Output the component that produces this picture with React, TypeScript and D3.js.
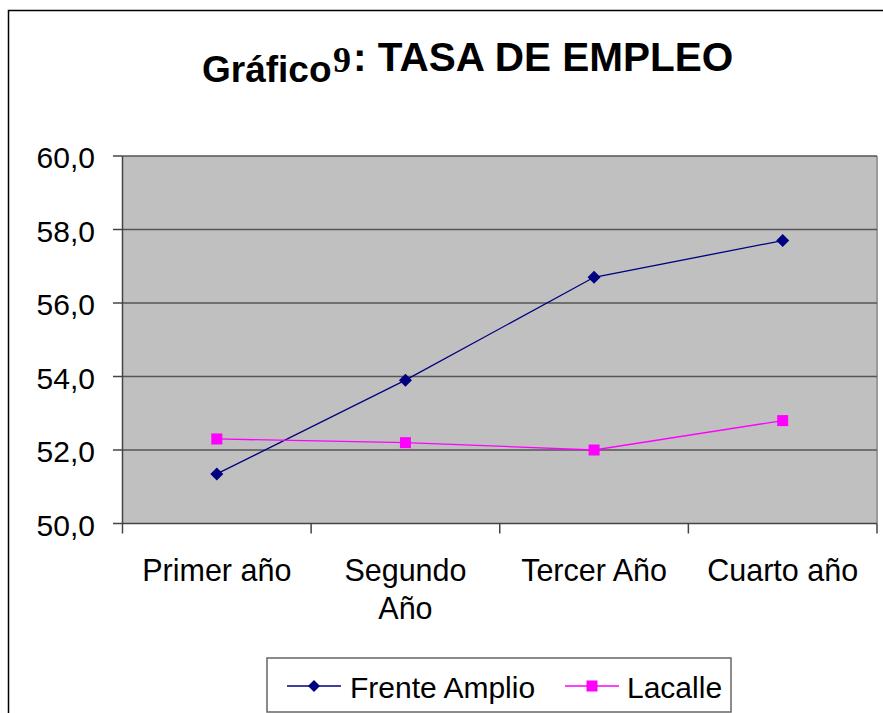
import React from 'react';
import * as d3 from 'd3';

const categories = ['Primer año', 'Segundo Año', 'Tercer Año', 'Cuarto año'];
const categoryLines = [['Primer año'], ['Segundo', 'Año'], ['Tercer Año'], ['Cuarto año']];
const frenteAmplio = [51.35, 53.9, 56.7, 57.7];
const lacalle = [52.3, 52.2, 52.0, 52.8];
const yTicks = [50, 52, 54, 56, 58, 60];
const seriesNames = ['Frente Amplio', 'Lacalle'];

const font = '"Liberation Sans", Arial, sans-serif';

const App = () => {
  const width = 883;
  const height = 713;

  // Plot area
  const left = 122.5;
  const right = 877;
  const top = 156;
  const bottom = 523.5;

  const x = d3.scaleBand<string>().domain(categories).range([left, right]).padding(0);
  const y = d3.scaleLinear().domain([50, 60]).range([bottom, top]);
  const cx = (c: string) => (x(c) as number) + x.bandwidth() / 2;

  const line = d3
    .line<number>()
    .x((_, i) => cx(categories[i]))
    .y((d) => y(d));

  const diamond = (px: number, py: number, r: number) =>
    `M${px},${py - r}L${px + r},${py}L${px},${py + r}L${px - r},${py}Z`;

  return (
    <svg
      width={width}
      height={height}
      style={{ position: 'absolute', left: 0, top: 0, background: '#fff' }}
    >
      {/* outer frame */}
      <path d={`M8.5,${height}V10.5H${width}`} fill="none" stroke="#000" strokeWidth={1.5} />

      {/* title */}
      <text x={202} y={82} fontFamily={font} fontWeight="bold" fontSize={37}>
        Gráfico
      </text>
      <text
        x={333}
        y={72}
        fontFamily='"Liberation Serif", "Times New Roman", serif'
        fontWeight="bold"
        fontSize={36}
      >
        9
      </text>
      <text x={353} y={71} fontFamily={font} fontWeight="bold" fontSize={40.5}>
        : TASA DE EMPLEO
      </text>

      {/* plot background */}
      <rect x={left} y={top} width={right - left} height={bottom - top} fill="#c0c0c0" />
      <line x1={right} x2={right} y1={top} y2={bottom} stroke="#9a9a9a" strokeWidth={2} />

      {/* gridlines */}
      {yTicks.slice(1).map((t) => (
        <line key={t} x1={left} x2={right} y1={y(t)} y2={y(t)} stroke="#555" strokeWidth={1.5} />
      ))}

      {/* y axis */}
      <line x1={left} x2={left} y1={top} y2={bottom} stroke="#444" strokeWidth={1.5} />
      {yTicks.map((t) => (
        <g key={t}>
          <line x1={113} x2={left} y1={y(t)} y2={y(t)} stroke="#444" strokeWidth={1.5} />
          <text x={95} y={y(t) + 12} textAnchor="end" fontFamily={font} fontSize={30}>
            {d3.format('.1f')(t).replace('.', ',')}
          </text>
        </g>
      ))}

      {/* x axis */}
      <line x1={left} x2={right} y1={bottom} y2={bottom} stroke="#444" strokeWidth={1.5} />
      {[...categories.map((c) => x(c) as number), right].map((bx, i) => (
        <line key={i} x1={bx} x2={bx} y1={bottom} y2={bottom + 10} stroke="#444" strokeWidth={1.5} />
      ))}
      {categories.map((c, i) => (
        <text key={c} textAnchor="middle" fontFamily={font} fontSize={30.5}>
          {categoryLines[i].map((ln, j) => (
            <tspan key={j} x={cx(c)} y={581 + j * 38}>
              {ln}
            </tspan>
          ))}
        </text>
      ))}

      {/* series */}
      <path d={line(frenteAmplio) || ''} fill="none" stroke="#000080" strokeWidth={1.3} />
      <path d={line(lacalle) || ''} fill="none" stroke="#ff00ff" strokeWidth={1.3} />
      {frenteAmplio.map((v, i) => (
        <path key={i} d={diamond(cx(categories[i]), y(v), 6.5)} fill="#000080" />
      ))}
      {lacalle.map((v, i) => (
        <rect key={i} x={cx(categories[i]) - 5.5} y={y(v) - 5.5} width={11} height={11} fill="#ff00ff" />
      ))}

      {/* legend */}
      <rect x={267} y={658} width={464} height={54} fill="#fff" stroke="#666" strokeWidth={1.5} />
      <line x1={287} x2={341} y1={686} y2={686} stroke="#000080" strokeWidth={1.3} />
      <path d={diamond(314, 686, 6)} fill="#000080" />
      <text x={350} y={698} fontFamily={font} fontSize={30}>
        {seriesNames[0]}
      </text>
      <line x1={565} x2={619} y1={686} y2={686} stroke="#ff00ff" strokeWidth={1.3} />
      <rect x={586.5} y={680.5} width={11} height={11} fill="#ff00ff" />
      <text x={627} y={698} fontFamily={font} fontSize={30}>
        {seriesNames[1]}
      </text>
    </svg>
  );
};

export default App;
